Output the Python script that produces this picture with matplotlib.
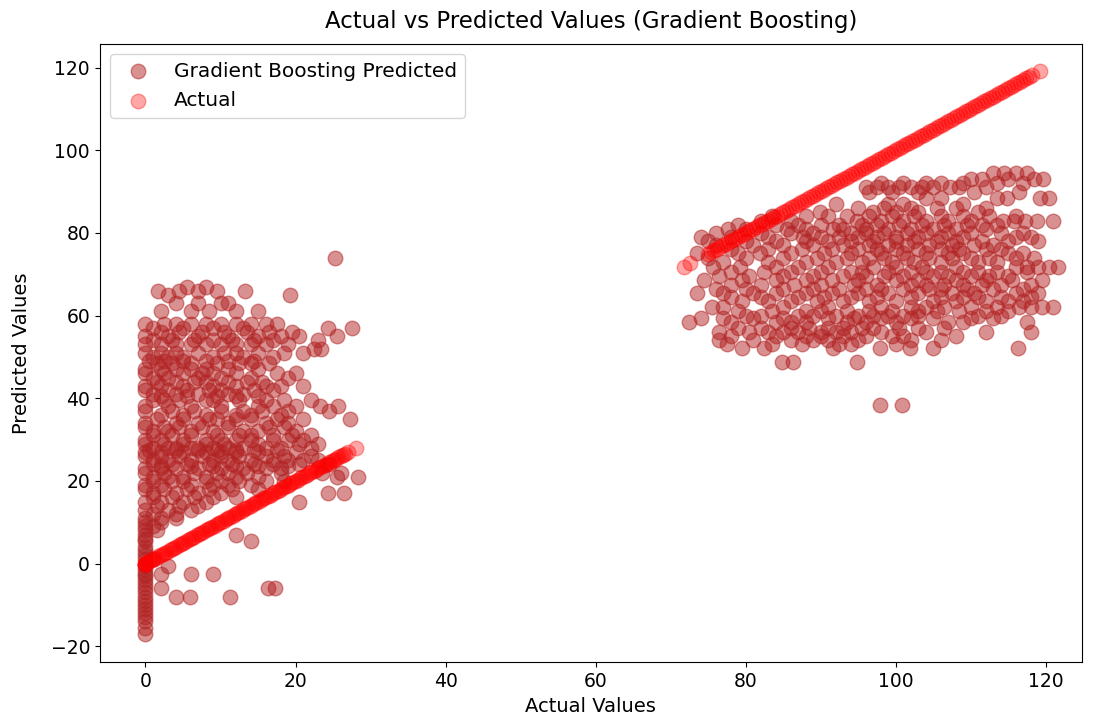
"""Actual vs predicted values for the gradient boosting model."""

import matplotlib
matplotlib.use("Agg")
import matplotlib.pyplot as plt

# predicted points (y level -> x positions)
left_rows_y = [74, 67, 66, 65, 63, 61, 58, 57, 56, 55, 54, 53, 52, 51, 50, 49, 48.5, 47,
               46, 45, 44, 43, 42, 41, 40.5, 39.5, 38, 37, 36, 35, 34, 33, 32, 31, 30,
               29, 28, 27.5, 27, 26, 25, 24, 23.5, 23, 22, 21, 20, 19, 18, 17, 16, 15,
               14, 13, 12, 11, 10, 9, 8, 7, 6, 5.5, 4, 3, 2, 1, -0.5, -1.5, -2.5, -3, -4,
               -5, -6, -7, -8, -9, -10, -11, -12, -13, -14, -15.5, -17]
left_rows_x = [
    [25.3],
    [5.5, 8],
    [1.6, 4.5, 7, 9.5, 13.2],
    [3, 19.2],
    [4, 7, 10, 11],
    [2, 6, 8.5, 12, 15],
    [0, 2.5, 4, 6, 8, 10, 12, 14, 16, 17.5],
    [1, 5, 9, 13, 27.5, 24.3],
    [2, 4.5, 7.5, 10.5, 13.5, 16.5, 19.5],
    [0, 3, 7, 11, 15, 18, 20.5, 25.5],
    [1, 3.5, 6.5, 9, 11.5, 14.5, 17, 23],
    [0, 2, 4, 6, 8, 10, 12, 14, 16, 19],
    [22.5, 23.4],
    [0, 2, 4, 7, 10.5, 12, 15, 18.5, 21],
    [1, 3, 5, 9, 13, 17],
    [0.5, 2.5, 5, 8, 11, 14.5],
    [1.5, 3.5, 6, 9.5, 12.5, 14, 16.5],
    [0, 2, 4, 6, 8, 11, 15],
    [0, 2.5, 5, 7.5, 9, 12, 17.5, 20],
    [1, 3, 7, 10, 14, 19],
    [1.5, 4, 6.5, 8, 11, 13.5, 15.5],
    [0, 2, 5, 9, 12, 16, 18, 21],
    [0, 3, 5.5, 8.5, 10, 14.5, 17],
    [1, 4, 7, 11, 13],
    [2, 5.5, 9.5, 12, 15],
    [1, 2.5, 4.5, 8, 9, 12.5, 16, 18.5, 22],
    [0, 3, 6, 10, 15, 17, 20, 23.2, 25.6],
    [0, 3.5, 6.5, 10, 13, 15.5, 19, 24.5],
    [2, 5, 8, 12, 14, 18],
    [1.5, 5, 8.5, 9.5, 12, 14, 17.5, 21, 27.2],
    [0, 4, 7, 11, 16, 19],
    [0, 2.5, 4.5, 7.5, 11, 16.5, 18.5],
    [1, 3, 6, 9, 13, 15, 20],
    [1, 3.5, 6, 9.5, 12.5, 14, 17, 19.5, 22],
    [0, 2, 5, 8, 10, 12, 14, 17, 19, 21],
    [0, 2.5, 5, 8, 10.5, 15, 20.5, 23],
    [1, 3, 4, 6, 7, 9, 11, 13, 16, 18, 22],
    [0.5, 4, 7, 9.5, 12, 14.5, 17.5],
    [0, 2, 5, 8, 10, 12, 15, 20],
    [0, 2, 4.5, 7.5, 10, 12.5, 16, 18.5, 22],
    [1, 3, 6, 9, 11, 14, 17, 19, 21, 23],
    [1, 3.5, 5.5, 8.5, 11.5, 14.5, 17, 20.5, 24.5],
    [2, 6, 9, 12, 15, 19],
    [0, 2, 4, 7, 10, 13, 16, 18],
    [0, 2.5, 6.5, 9.5, 11, 13.5, 18, 23.5, 26],
    [1, 3, 5, 8, 12, 15, 25.5, 28.3],
    [1, 3.5, 5, 8, 10, 12.5, 16, 18.5],
    [0, 2, 6, 9, 11, 14],
    [0, 2.5, 5.5, 8.5, 11.5, 15],
    [1, 4, 7, 10, 24.3, 26.4],
    [1, 3.5, 6.5, 9, 12],
    [0, 2, 5, 8, 20.4],
    [1.5, 4.5, 7],
    [0, 3, 6],
    [1, 4],
    [0, 2, 4],
    [0, 2],
    [0, 1],
    [0, 1.5],
    [0, 12.1],
    [0],
    [0, 14.1],
    [0],
    [0],
    [0],
    [0, 1],
    [0, 3],
    [0],
    [0, 2, 6, 9],
    [0],
    [0],
    [0],
    [0, 2, 16.3, 17.2],
    [0],
    [0, 4.1, 5.9, 11.2],
    [0],
    [0],
    [0],
    [0],
    [0],
    [0],
    [0],
    [0],
]

right_rows_y = [94.5, 93, 92, 91.2, 90, 88.5, 87, 86, 85, 84, 83, 82, 81, 80, 79, 78,
                77, 76, 75.2, 74, 73, 71.8, 70.5, 69.5, 68.5, 67.5, 66.5, 65.5, 64.5,
                63.5, 62, 61, 60, 59.5, 58.5, 57, 56, 55, 54, 53, 52.2, 48.8, 38.4]
right_rows_x = [
    [113, 114.5, 116, 117.5],
    [110, 111.5, 115, 118.5, 119.6],
    [98, 101, 104, 106, 109, 113.5, 117],
    [96, 97.5, 99, 100.5, 102, 103.5, 105, 107.2, 108.5, 112],
    [96.5, 99.5, 103, 110.5, 116.5],
    [104, 106, 113.5, 114.8, 119.2, 120.5],
    [92, 99, 101, 109],
    [95, 98.5, 102, 105.5, 108, 112],
    [89.9, 97, 100, 103, 111],
    [83.5, 88, 91, 93.5, 96.5, 99.5, 102.5, 106, 109, 112.5, 116],
    [82, 86, 94.8, 98, 101, 104, 107, 110, 114.3, 115.8, 117.3, 118.8, 121],
    [79, 84, 87, 90, 92.5, 95.5, 97.5, 100.5, 103.5, 106.5, 109.5, 111.5, 113.5],
    [77.6, 80, 85.5, 88, 91.6, 93, 96, 99, 102, 105, 108, 112],
    [76, 82, 86, 89, 94, 96, 98.5, 101.5, 104, 107, 110, 114, 117],
    [74, 78, 83, 87.6, 90, 92.5, 95, 97.5, 100, 103, 106, 109, 116, 118],
    [75, 80, 84, 88, 91, 94, 97, 100, 102.5, 105.5, 108, 111.5, 115, 119],
    [76, 81, 85, 89, 93, 96.5, 99, 101.5, 104.5, 107.5, 110.5, 113],
    [78, 83, 87.5, 91.5, 95, 97.5, 100, 103, 106, 108.5, 112, 114],
    [73.5, 79, 81.9, 86, 90.5, 94, 98, 101, 104, 107, 109, 115, 117],
    [75, 80, 85, 89.5, 93.5, 96.5, 98.5, 101.5, 104.5, 107.5, 110, 112.5, 116, 118.5],
    [77, 83, 88, 92, 95.5, 99.5, 102.5, 106, 111, 113.5],
    [75.6, 79.2, 84, 87, 91, 97, 100, 103.5, 108, 116, 117.5, 119, 120.5, 121.6],
    [78, 82.5, 86, 90, 94, 95.5, 99, 102, 104, 106, 109, 111, 113.5, 117.5],
    [76.5, 80.5, 85, 89, 93, 96, 98.5, 101, 105, 107, 110, 112.5, 115],
    [74.5, 79.5, 84, 88, 91.5, 95, 100, 103, 108, 112, 115.5, 119.5],
    [78, 82, 86.5, 90, 94.5, 97.5, 102, 104, 106.5, 109, 111.5, 114, 118],
    [76, 80, 85, 89, 92.5, 96, 98, 101, 104.5, 106, 109.5, 113, 117],
    [73.5, 77, 81, 84, 88, 91.5, 95, 99, 103, 107.5, 110.5, 116, 119],
    [78, 82, 87, 90.5, 94, 97.5, 102, 106, 109, 111, 114, 118],
    [79.5, 83, 86, 89.5, 93, 96.5, 100, 105, 108, 112, 115, 117],
    [75.5, 77, 85, 91, 98, 102, 104, 106.5, 110, 113.5, 116.5, 118, 119.5, 121],
    [79, 83.5, 88, 90, 93.5, 96.5, 99.5, 103, 105.5, 108.5, 112, 115],
    [80, 82, 87, 89, 92, 95, 97, 99, 101, 103, 111, 114],
    [74, 77, 81, 85, 91, 94.5, 98, 102, 105, 110, 113],
    [72.4, 78, 84, 86, 88, 93.5, 96, 100, 107, 109, 117.5],
    [79, 82, 86, 88.5, 91, 93, 95.5, 97, 100.5, 103, 106.5],
    [76.5, 80.5, 83, 85, 87, 90, 92, 94, 98, 104, 112, 118],
    [78, 84, 88, 90, 93, 96, 99.5, 101, 108],
    [76.5, 81, 86, 89, 91, 95, 102, 106],
    [77.5, 83.5, 87.5, 92.5, 94, 100],
    [79.5, 82.5, 91.6, 97.9, 101.9, 105, 116.3],
    [84.9, 86.3, 94.8],
    [97.9, 100.9],
]

# actual values (plotted against themselves)
actual_left = [0, 0, 0, 0, 0.2, 0.5, 0.8, 1.1, 1.4, 1.7, 2, 2.3, 2.6, 2.9, 3.2, 3.5, 3.8,
               4.1, 4.4, 4.7, 5, 5.3, 5.6, 5.9, 6.2, 6.5, 6.8, 7.1, 7.4, 7.7, 8, 8.3, 8.6,
               8.9, 9.2, 9.5, 9.8, 10.1, 10.4, 10.7, 11, 11.3, 11.6, 11.9, 12.2, 12.5,
               12.8, 13.1, 13.4, 13.7, 14, 14.3, 14.6, 14.9, 15.2, 15.5, 15.8, 16.1, 16.4,
               16.7, 17, 17.3, 17.6, 17.9, 18.2, 18.5, 18.8, 19.1, 19.4, 19.7, 20, 20.3,
               20.6, 20.9, 21.2, 21.5, 21.8, 22.1, 22.4, 22.7, 23, 23.3, 23.6, 23.9, 24.2,
               24.5, 24.8, 25.1, 25.4, 25.7, 26, 26.3, 26.6, 27, 28]
actual_right = [71.8, 72.6, 75.0, 75.4, 75.8, 76.2, 76.6, 77.0, 77.4, 77.8, 78.2, 78.6,
                79.0, 79.4, 79.8, 80.2, 80.6, 81.0, 81.4, 81.8, 82.2, 82.6, 83.0, 83.4,
                83.8, 84.2, 84.6, 85.0, 85.4, 85.8, 86.2, 86.6, 87.0, 87.4, 87.8, 88.2,
                88.6, 89.0, 89.4, 89.8, 90.2, 90.6, 91.0, 91.4, 91.8, 92.2, 92.6, 93.0,
                93.4, 93.8, 94.2, 94.6, 95.0, 95.4, 95.8, 96.2, 96.6, 97.0, 97.4, 97.8,
                98.2, 98.6, 99.0, 99.4, 99.8, 100.2, 100.6, 101.0, 101.4, 101.8, 102.2,
                102.6, 103.0, 103.4, 103.8, 104.2, 104.6, 105.0, 105.4, 105.8, 106.2,
                106.6, 107.0, 107.4, 107.8, 108.2, 108.6, 109.0, 109.4, 109.8, 110.2,
                110.6, 111.0, 111.4, 111.8, 112.2, 112.6, 113.0, 113.4, 113.8, 114.2,
                114.6, 115.0, 115.4, 115.8, 116.2, 116.6, 117.0, 117.4, 117.8, 118.2, 119.2]


def flatten(rows_y, rows_x):
    xs, ys = [], []
    for y, row in zip(rows_y, rows_x):
        xs += row
        ys += [y] * len(row)
    return xs, ys


lx, ly = flatten(left_rows_y, left_rows_x)
rx, ry = flatten(right_rows_y, right_rows_x)
pred_x, pred_y = lx + rx, ly + ry
actual = actual_left + actual_right

fig = plt.figure(figsize=(10.96, 7.27), dpi=100)
ax = fig.add_axes([0.091, 0.089, 0.896, 0.851])
ax.scatter(pred_x, pred_y, s=110, color="firebrick", alpha=0.5,
           label="Gradient Boosting Predicted")
ax.scatter(actual, actual, s=110, color="red", alpha=0.35, label="Actual")
ax.set_xlim(-6.1, 124.8)
ax.set_ylim(-23.9, 125.8)
ax.set_xlabel("Actual Values", fontsize=14)
ax.set_ylabel("Predicted Values", fontsize=14, labelpad=14)
ax.set_title("Actual vs Predicted Values (Gradient Boosting)", fontsize=16.5, pad=11)
ax.tick_params(labelsize=13.5)
ax.legend(loc="upper left", fontsize=14.5)
fig.savefig("out.png", dpi=100)
